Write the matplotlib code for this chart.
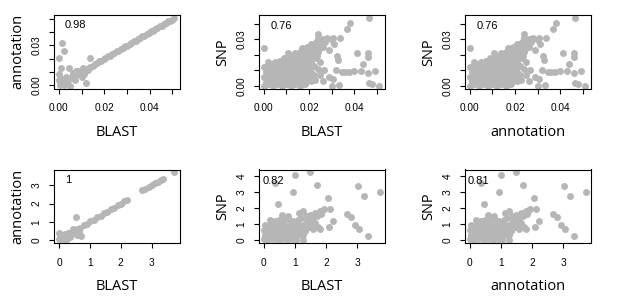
import matplotlib
matplotlib.use('Agg')
import matplotlib.pyplot as plt
import numpy as np

# top row: raw distances
# BLAST vs annotation (panel 1)
blast_a = [0.0004, 0.0013, 0.0021, 0.0030, 0.0041, 0.0049, 0.0058, 0.0066, 0.0077, 0.0085,
           0.0094, 0.0103, 0.0112, 0.0122, 0.0131, 0.0139, 0.0150, 0.0158, 0.0169, 0.0178,
           0.0186, 0.0197, 0.0205, 0.0216, 0.0224, 0.0235, 0.0243, 0.0254, 0.0262, 0.0273,
           0.0281, 0.0292, 0.0300, 0.0311, 0.0319, 0.0330, 0.0338, 0.0349, 0.0357, 0.0368,
           0.0376, 0.0387, 0.0395, 0.0406, 0.0414, 0.0425, 0.0433, 0.0444, 0.0452, 0.0463,
           0.0471, 0.0482, 0.0490, 0.0498, 0.0507,
           0.0013, 0.0022, 0.0000, 0.0138, 0.0008, 0.0044, 0.0000, 0.0119, 0.0037, 0.0096,
           0.0059, 0.0081, 0.0050, 0.0030, 0.0070, 0.0100, 0.0062, 0.0090, 0.0110,
           0.0015, 0.0025, 0.0108, 0.0128, 0.0075, 0.0000]
annot_a = [0.0002, 0.0015, 0.0019, 0.0032, 0.0039, 0.0051, 0.0056, 0.0068, 0.0075, 0.0087,
           0.0092, 0.0105, 0.0110, 0.0124, 0.0129, 0.0141, 0.0148, 0.0160, 0.0167, 0.0180,
           0.0184, 0.0199, 0.0203, 0.0218, 0.0222, 0.0237, 0.0241, 0.0256, 0.0260, 0.0275,
           0.0279, 0.0294, 0.0298, 0.0313, 0.0317, 0.0332, 0.0336, 0.0351, 0.0355, 0.0370,
           0.0374, 0.0389, 0.0393, 0.0408, 0.0412, 0.0427, 0.0431, 0.0446, 0.0450, 0.0465,
           0.0469, 0.0484, 0.0488, 0.0496, 0.0505,
           0.0320, 0.0257, 0.0203, 0.0203, 0.0130, 0.0130, 0.0086, 0.0018, 0.0030, 0.0080,
           0.0068, 0.0105, -0.0005, 0.0060, 0.0040, 0.0060, 0.0095, 0.0110, 0.0085,
           0.0045, 0.0005, 0.0130, 0.0115, 0.0110, 0.0040]

# BLAST (or annotation) vs SNP (panels 2 and 3)
blast_s = [0.000, 0.002, 0.004, 0.006, 0.008, 0.010, 0.012, 0.014, 0.016, 0.018,
           0.001, 0.003, 0.005, 0.007, 0.009, 0.011, 0.013, 0.015, 0.017, 0.019, 0.021,
           0.000, 0.002, 0.004, 0.006, 0.008, 0.010, 0.012, 0.014, 0.016, 0.018, 0.020, 0.022,
           0.001, 0.003, 0.005, 0.007, 0.009, 0.011, 0.013, 0.015, 0.017, 0.019, 0.021,
           0.000, 0.002, 0.004, 0.006, 0.008, 0.010, 0.012, 0.014, 0.016, 0.018, 0.020, 0.022,
           0.005, 0.007, 0.009, 0.011, 0.013, 0.015, 0.017, 0.019, 0.021,
           0.009, 0.011, 0.013, 0.015, 0.017, 0.019, 0.021, 0.023,
           0.014, 0.016, 0.018, 0.020, 0.022, 0.024,
           0.017, 0.019, 0.021, 0.023, 0.025,
           0.021, 0.023, 0.025, 0.027,
           0.024, 0.026, 0.028,
           0.0464, 0.0382, 0.0369, 0.0239, 0.0336, 0.0301, 0.0000, 0.0413, 0.0458, 0.0324,
           0.0327, 0.0462, 0.0437, 0.0105, 0.0320, 0.0345, 0.0360, 0.0375, 0.0399, 0.0431,
           0.0461, 0.0493, 0.0290, 0.0305, 0.0260, 0.0302, 0.0330, 0.0464, 0.0476, 0.0510,
           0.0224, 0.0246, 0.0276, 0.0305, 0.0253, 0.0260, 0.0290, 0.0310, 0.0235, 0.0250,
           0.0265, 0.0240, 0.0030, 0.0020, 0.0070,
           0.0010, 0.0050, 0.0090, 0.0130, 0.0170, 0.0030, 0.0070, 0.0110, 0.0150, 0.0190,
           0.0020, 0.0060, 0.0100, 0.0140, 0.0180]
snp_s = [0.000, 0.001, 0.000, 0.001, 0.000, 0.001, 0.000, 0.001, 0.000, 0.001,
         0.003, 0.004, 0.003, 0.004, 0.003, 0.004, 0.003, 0.004, 0.003, 0.004, 0.003,
         0.006, 0.007, 0.006, 0.007, 0.006, 0.007, 0.006, 0.007, 0.006, 0.007, 0.006, 0.007,
         0.009, 0.010, 0.009, 0.010, 0.009, 0.010, 0.009, 0.010, 0.009, 0.010, 0.009,
         0.012, 0.013, 0.012, 0.013, 0.012, 0.013, 0.012, 0.013, 0.012, 0.013, 0.012, 0.013,
         0.015, 0.016, 0.015, 0.016, 0.015, 0.016, 0.015, 0.016, 0.015,
         0.018, 0.017, 0.019, 0.018, 0.019, 0.018, 0.019, 0.018,
         0.021, 0.022, 0.021, 0.022, 0.021, 0.022,
         0.024, 0.025, 0.024, 0.025, 0.024,
         0.027, 0.028, 0.027, 0.028,
         0.031, 0.030, 0.031,
         0.0436, 0.0402, 0.0366, 0.0332, 0.0306, 0.0296, 0.0243, 0.0211, 0.0211, 0.0194,
         0.0164, 0.0185, 0.0143, 0.0211, 0.0104, 0.0089, 0.0089, 0.0089, 0.0094, 0.0094,
         0.0083, 0.0096, 0.0057, 0.0047, 0.0030, 0.0002, 0.0004, 0.0020, 0.0010, 0.0002,
         0.0036, 0.0068, 0.0300, 0.0310, 0.0280, 0.0250, 0.0230, 0.0270, 0.0190, 0.0150,
         0.0100, 0.0110, 0.0140, 0.0150, 0.0160,
         0.0015, 0.0020, 0.0015, 0.0020, 0.0015, 0.0050, 0.0052, 0.0048, 0.0051, 0.0049,
         0.0080, 0.0082, 0.0079, 0.0081, 0.0110]
annot_s = blast_s  # annotation distances are practically the same as BLAST here

# bottom row: corrected distances
blast_b = [0.05, 0.15, 0.25, 0.36, 0.47, 0.58, 0.69, 0.80, 0.91, 1.02, 1.13, 1.24, 1.35,
           1.46, 1.57, 1.68, 1.79, 1.90, 2.01, 2.12, 2.19,
           2.70, 2.80, 2.90, 3.00, 3.10, 3.20, 3.30, 3.36, 3.74,
           0.40, 0.50, 0.45, 0.60, 0.70, 0.35, 0.55, 0.30, 0.65,
           0.00, 0.05, 0.10, 0.15, 0.20, 0.00, 0.08, 0.18, 0.25, 0.55]
annot_b = [0.04, 0.16, 0.24, 0.37, 0.46, 0.59, 0.68, 0.81, 0.90, 1.03, 1.12, 1.25, 1.34,
           1.47, 1.56, 1.69, 1.78, 1.91, 2.00, 2.13, 2.20,
           2.72, 2.81, 2.92, 3.01, 3.12, 3.21, 3.31, 3.36, 3.72,
           0.30, 0.42, 0.58, 0.28, 0.20, 0.18, 0.55, 0.40, 0.45,
           0.05, 0.30, 0.15, 0.00, 0.10, 0.40, 0.00, 0.30, 0.05, 1.27]

blast_c = [0.00, 0.15, 0.30, 0.45, 0.60, 0.75, 0.90, 1.05,
           0.05, 0.20, 0.35, 0.50, 0.65, 0.80, 0.95, 1.10, 1.25,
           0.00, 0.15, 0.30, 0.45, 0.60, 0.75, 0.90, 1.05, 1.20, 1.33,
           0.05, 0.20, 0.35, 0.50, 0.65, 0.80, 0.95, 1.10, 1.25,
           0.20, 0.35, 0.50, 0.65, 0.80, 0.95, 1.10,
           1.20, 1.35, 1.50, 1.65, 1.80, 1.95, 1.40, 1.55, 1.70, 1.85, 1.27, 1.12, 0.77,
           1.45, 1.60, 1.75, 1.80, 1.50, 1.65,
           1.50, 1.02, 0.36, 1.72, 3.04, 3.75, 0.93, 3.23, 2.08, 0.45, 2.13, 1.91, 2.67,
           2.80, 2.95, 3.08, 3.35, 2.22, 2.11, 1.26, 0.60,
           0.10, 0.40, 0.70, 1.00, 0.25, 0.55, 0.85, 1.15, 0.12, 0.42, 0.72, 1.02]
snp_c = [0.05, 0.00, 0.08, 0.02, 0.06, 0.00, 0.05, 0.02,
         0.35, 0.30, 0.38, 0.32, 0.36, 0.30, 0.37, 0.33, 0.35,
         0.65, 0.62, 0.68, 0.63, 0.66, 0.61, 0.67, 0.64, 0.66, 0.60,
         0.95, 0.92, 0.97, 0.93, 0.96, 0.91, 0.97, 0.94, 0.93,
         1.25, 1.22, 1.27, 1.23, 1.26, 1.21, 1.24,
         1.40, 1.50, 1.60, 1.70, 1.85, 1.95, 1.20, 1.35, 1.50, 1.65, 1.79, 1.70, 1.52,
         0.85, 0.70, 0.80, 0.69, 1.05, 1.10,
         4.23, 4.06, 3.54, 3.43, 3.39, 2.99, 2.99, 2.74, 2.63, 2.23, 1.96, 1.89, 1.64,
         1.43, 0.97, 0.69, 0.27, 1.22, 0.84, 0.00, 1.55,
         0.20, 0.18, 0.22, 0.19, 0.50, 0.52, 0.49, 0.51, 0.80, 0.82, 0.79, 1.10]
annot_c = blast_c

panels = [
    (blast_a, annot_a, 'BLAST', 'annotation', '0.98'),
    (blast_s, snp_s, 'BLAST', 'SNP', '0.76'),
    (annot_s, snp_s, 'annotation', 'SNP', '0.76'),
    (blast_b, annot_b, 'BLAST', 'annotation', '1'),
    (blast_c, snp_c, 'BLAST', 'SNP', '0.82'),
    (annot_c, snp_c, 'annotation', 'SNP', '0.81'),
]
text_pos = [(0.167, 0.864), (0.18, 0.85), (0.18, 0.85), (0.11, 0.86), (0.115, 0.85), (0.105, 0.85)]
xlims = [(-0.0021, 0.0533), (-0.0021, 0.0535), (-0.0021, 0.0535), (-0.16, 3.92), (-0.15, 3.9), (-0.15, 3.9)]
ylims = [(-0.0025, 0.053), (-0.0017, 0.0455), (-0.0017, 0.0455), (-0.17, 3.87), (-0.17, 4.4), (-0.17, 4.4)]
xt = [np.arange(0, 0.051, 0.01)] * 3 + [np.arange(0, 4, 1)] * 3
xtl = [['0.00', '', '0.02', '', '0.04', '']] * 3 + [['0', '1', '2', '3']] * 3
yt = [np.arange(0, 0.051, 0.01), np.arange(0, 0.041, 0.01), np.arange(0, 0.041, 0.01),
      np.arange(0, 4, 1), np.arange(0, 5, 1), np.arange(0, 5, 1)]
ytl = [['0.00', '', '', '0.03', '', ''], ['0.00', '', '', '0.03', ''], ['0.00', '', '', '0.03', ''],
       ['0', '1', '2', '3'], ['0', '1', '2', '3', '4'], ['0', '1', '2', '3', '4']]

W, H = 617, 297
lefts = [54, 259, 465]
tops = [15, 169.5]

fig = plt.figure(figsize=(W / 100, H / 100), dpi=100)
for i, (x, y, xl, yl, r) in enumerate(panels):
    left = lefts[i % 3]
    top = tops[i // 3]
    ax = fig.add_axes([left / W, 1 - (top + 73.5) / H, 126 / W, 73.5 / H])
    ax.scatter(x, y, s=25, color='#b6b6b6', linewidths=0, zorder=2)
    ax.set_xlim(xlims[i])
    ax.set_ylim(ylims[i])
    ax.set_xticks(xt[i])
    ax.set_xticklabels(xtl[i], family='Liberation Sans', fontsize=7.3)
    ax.set_yticks(yt[i])
    ax.set_yticklabels(ytl[i], family='Liberation Sans', fontsize=7.3, rotation=90, va='center')
    ax.tick_params(length=3.6, width=0.8)
    ax.tick_params(axis='x', pad=7)
    ax.tick_params(axis='y', pad=5.5)
    for sp in ax.spines.values():
        sp.set_linewidth(0.8)
    ax.set_xlabel(xl, family='Open Sans', fontsize=10.5)
    ax.set_ylabel(yl, family='Open Sans', fontsize=10.5)
    ax.xaxis.set_label_coords(0.5, -44 / 73.5)
    ax.xaxis.label.set_va('center')
    ax.yaxis.set_label_coords(-36 / 126, 0.5)
    ax.yaxis.label.set_va('center')
    ax.text(text_pos[i][0], text_pos[i][1], r, transform=ax.transAxes, ha='center', va='center',
            family='Liberation Sans', fontsize=8)

fig.savefig('out.png', dpi=100)
